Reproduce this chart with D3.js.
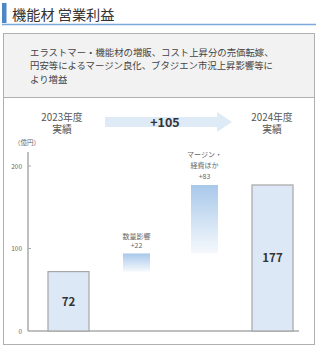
<!DOCTYPE html>
<html>
<head>
<meta charset="utf-8">
<script src="https://cdn.jsdelivr.net/npm/d3@7"></script>
<style>
  body { margin: 0; background: #fff; }
  svg { display: block; font-family: "Noto Sans CJK JP", "Noto Sans", sans-serif; }
</style>
</head>
<body>
<svg id="chart" viewBox="0 0 318 347" width="318" height="347"></svg>
<script>
// data
const categories = ["2023", "qty", "margin", "2024"]
const kinds = ["total", "delta", "delta", "total"]
const startValues = [0, 72, 94, 0]
const endValues = [72, 94, 177, 177]
const barLabels = ["72", "", "", "177"]
const deltaLabels = [[], ["数量影響", "+22"], ["マージン・", "経費ほか", "+83"], []]
const yTicks = [0, 100, 200]
const noteLines = ["エラストマー・機能材の増販、コスト上昇分の売価転嫁、",
                   "円安等によるマージン良化、ブタジエン市況上昇影響等に",
                   "より増益"]

const svg = d3.select("#chart")

// header
svg.append("rect").attr("x", 2).attr("y", 3).attr("width", 4.5).attr("height", 20).attr("fill", "#4f86c6")
svg.append("text").attr("x", 12).attr("y", 19.5).attr("font-size", 14.2).attr("fill", "#333")
    .text("機能材 営業利益")
svg.append("line").attr("x1", 2).attr("x2", 316).attr("y1", 24.5).attr("y2", 24.5)
    .attr("stroke", "#7aa9dc").attr("stroke-width", 1.5)

// note box
svg.append("rect").attr("x", 3.5).attr("y", 33.5).attr("width", 311).attr("height", 64)
    .attr("fill", "#f2f2f2").attr("stroke", "#b0b0b0")
svg.selectAll(".note").data(noteLines).enter().append("text")
    .attr("x", 30).attr("y", (d, i) => 56 + i * 13.3)
    .attr("font-size", 9.4).attr("fill", "#444").text(d => d)

// chart box
svg.append("rect").attr("x", 3.5).attr("y", 97.5).attr("width", 311).attr("height", 247)
    .attr("fill", "#fff").attr("stroke", "#b0b0b0")

// scales
const y = d3.scaleLinear().domain([0, 200]).range([331, 166])
const x = d3.scalePoint().domain(categories).range([68.5, 272.5])
const barWidth = k => k == "total" ? 41 : 27
const labelGap = {qty: 8.7, margin: 11}

const defs = svg.append("defs")
const grad = defs.append("linearGradient").attr("id", "deltaGrad")
    .attr("x1", 0).attr("x2", 0).attr("y1", 0).attr("y2", 1)
grad.append("stop").attr("offset", "0%").attr("stop-color", "#a8c8ea")
grad.append("stop").attr("offset", "100%").attr("stop-color", "#f6f9fd")

// axis
svg.append("line").attr("x1", 28).attr("x2", 28).attr("y1", 152).attr("y2", y(0))
    .attr("stroke", "#aaa").attr("stroke-width", 1.5)
svg.append("line").attr("x1", 28).attr("x2", 299).attr("y1", y(0)).attr("y2", y(0))
    .attr("stroke", "#aaa").attr("stroke-width", 1.5)
svg.selectAll(".tick").data(yTicks.filter(d => d > 0)).enter().append("line")
    .attr("x1", 28).attr("x2", 31).attr("y1", d => y(d)).attr("y2", d => y(d))
    .attr("stroke", "#aaa")
svg.selectAll(".tlab").data(yTicks).enter().append("text")
    .attr("x", 22).attr("y", d => y(d) + 2.5).attr("text-anchor", "end")
    .attr("font-size", 6.5).attr("fill", "#666").text(d => d)
svg.append("text").attr("x", 27).attr("y", 145).attr("text-anchor", "middle")
    .attr("font-size", 6.5).attr("fill", "#666").text("（億円）")

// bars
categories.forEach(function (c, i) {
    let w = barWidth(kinds[i])
    let top = y(endValues[i]), bottom = y(startValues[i])
    let r = svg.append("rect").attr("x", x(c) - w / 2).attr("y", top)
        .attr("width", w).attr("height", bottom - top)
    if (kinds[i] == "total") {
        r.attr("fill", "#dde8f6").attr("stroke", "#a6a6a6").attr("stroke-width", 1.2)
        svg.append("text").attr("x", x(c)).attr("y", (top + bottom) / 2 + 4.5)
            .attr("text-anchor", "middle").attr("font-size", 11.5).attr("font-weight", "bold")
            .attr("fill", "#333").text(barLabels[i])
    } else {
        r.attr("fill", "url(#deltaGrad)")
        let lines = deltaLabels[i]
        lines.forEach(function (t, j) {
            svg.append("text").attr("x", x(c))
                .attr("y", top - 5.5 - (lines.length - 1 - j) * labelGap[c])
                .attr("text-anchor", "middle").attr("font-size", 7)
                .attr("fill", "#666").text(t)
        })
    }
})

// top labels
const heads = [["2023年度", "実績", 62], ["2024年度", "実績", 272]]
heads.forEach(function (h) {
    svg.append("text").attr("x", h[2]).attr("y", 120.5).attr("text-anchor", "middle")
        .attr("font-size", 9.8).attr("fill", "#555").text(h[0])
    svg.append("text").attr("x", h[2]).attr("y", 133).attr("text-anchor", "middle")
        .attr("font-size", 9.8).attr("fill", "#555").text(h[1])
})

// arrow
svg.append("path")
    .attr("d", "M105,117 L217,117 L217,112 L232,122 L217,132 L217,127 L105,127 Z")
    .attr("fill", "#deebf7")
svg.append("text").attr("x", 165).attr("y", 126.5).attr("text-anchor", "middle")
    .attr("font-size", 12.5).attr("font-weight", "bold").attr("fill", "#333").text("+105")
</script>
</body>
</html>
